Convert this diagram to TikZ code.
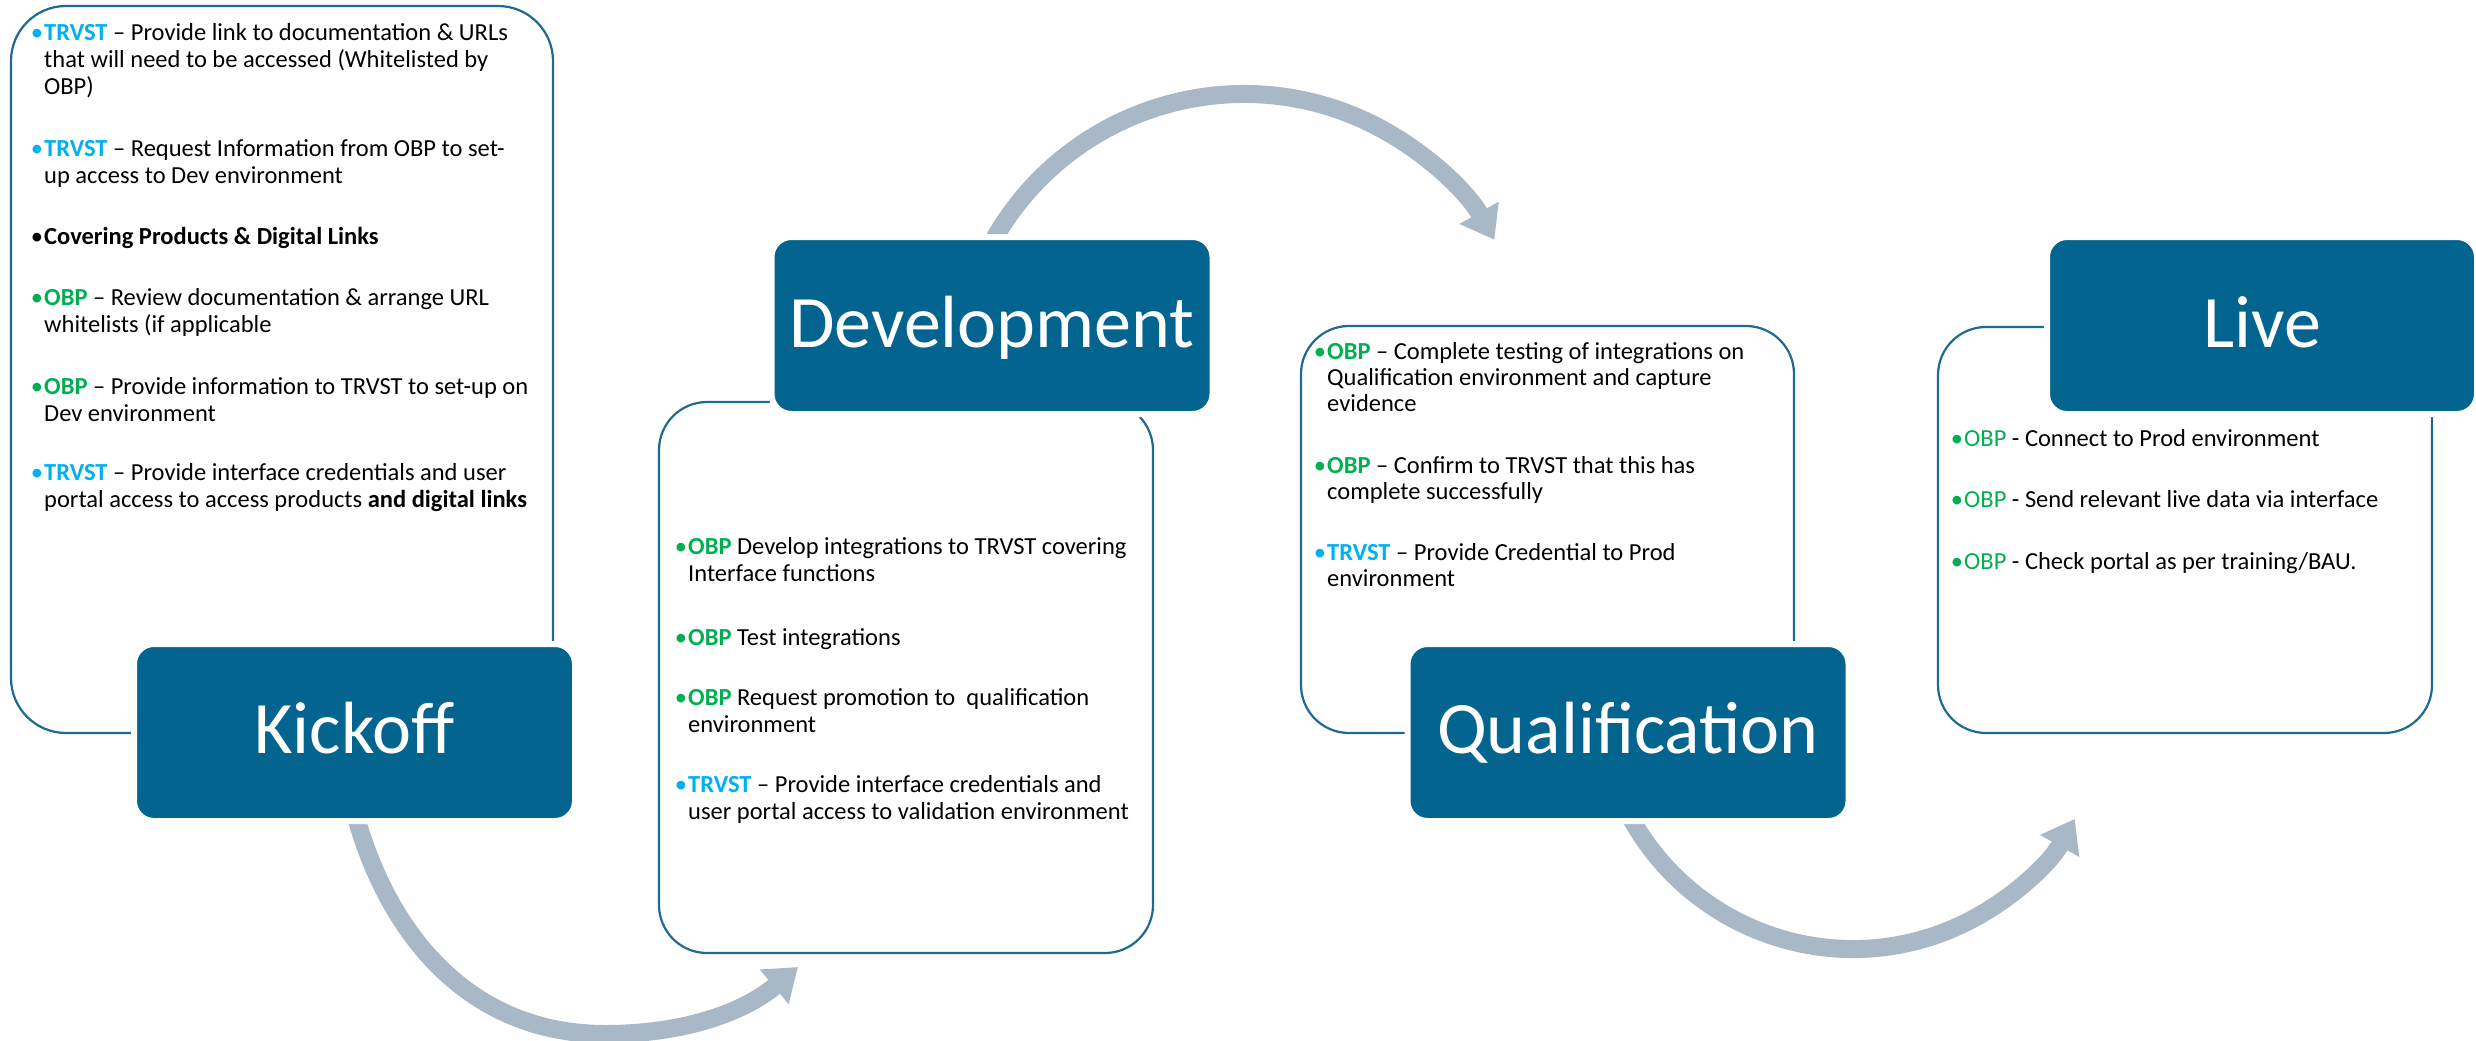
\documentclass[tikz,border=0pt]{standalone}
\usepackage{fontspec}
\setmainfont{Carlito}
\usetikzlibrary{arrows.meta}
\definecolor{darkb}{HTML}{03658F}
\definecolor{lineb}{HTML}{1F6A93}
\definecolor{arrowg}{HTML}{A9B8C6}
\definecolor{trv}{HTML}{00B0F0}
\definecolor{obp}{HTML}{00B050}
\newcommand{\TRV}{\textcolor{trv}{\textbf{TRVST}}}
\newcommand{\OBPb}{\textcolor{obp}{\textbf{OBP}}}
\newcommand{\OBPr}{\textcolor{obp}{OBP}}
\newcommand{\bitem}[6]{%
  \node[bulletmark, #5, text=#4] (#1b) at ({#2-7},#3) {\textbullet};
  \node[bodytext, #5] (#1) at (#2,#3) {\begin{tabular}[t]{@{}l@{}}#6\end{tabular}};}
\tikzset{
  textbox/.style={draw=lineb, line width=2.2pt, fill=white, rounded corners=48pt, inner sep=0pt},
  darkbox/.style={fill=darkb, draw=white, line width=6pt, rounded corners=20pt, inner sep=0pt,
                  minimum width=441pt, minimum height=177pt},
  titletext/.style={anchor=base, inner sep=0pt, text=white, font=\fontsize{74}{80}\selectfont},
  bodytext/.style={anchor=base west, inner sep=0pt, text=black},
  bulletmark/.style={anchor=base, inner sep=0pt},
  kfont/.style={font=\fontsize{24.5}{27}\selectfont},
  dfont/.style={font=\fontsize{24.5}{27}\selectfont},
  qfont/.style={font=\fontsize{24.5}{26}\selectfont},
  flow/.style={draw=arrowg, line width=18pt, -{Triangle[width=43pt,length=31pt]}}
}
\begin{document}
\begin{tikzpicture}[x=1pt,y=-1pt]
\useasboundingbox (0,0) rectangle (2476,1041);
\fill[white] (0,0) rectangle (2476,1041);

% curved arrows (behind the boxes)
\coordinate (a1s) at (353,806);
\coordinate (a1m) at (605,1034);
\coordinate (a1e) at (798,967);
\draw[flow] (a1s) .. controls (386,935) and (470,1034) .. (a1m)
            .. controls (685,1034) and (744,1012) .. (a1e);

\coordinate (a2s) at ({1244+288*cos(152.5)},{382-288*sin(152.5)});
\draw[flow] (a2s) arc[start angle=152.5, end angle=29.6, radius=288pt];

\coordinate (a3s) at ({1853+254*cos(207)},{695-254*sin(207)});
\draw[flow] (a3s) arc[start angle=207, end angle=330.8, radius=254pt];

% text boxes
\node[textbox, rounded corners=55pt, minimum width=542pt, minimum height=727pt] (ktb) at (282,369.5) {};
\node[textbox, minimum width=494pt, minimum height=551pt] (dtb) at (906,677.5) {};
\node[textbox, minimum width=493pt, minimum height=407pt] (qtb) at (1547.5,529.5) {};
\node[textbox, minimum width=494pt, minimum height=406pt] (ltb) at (2185,530) {};

% dark title boxes
\node[darkbox] (kbox) at (354.5,732.5) {};
\node[darkbox] (dbox) at (992,325.5) {};
\node[darkbox] (qbox) at (1628,732.5) {};
\node[darkbox, minimum width=430pt] (lbox) at (2262,325.5) {};

\node[titletext] (ktitle) at (354.5,753) {Kickoff};
\node[titletext] (dtitle) at (992,347) {Development};
\node[titletext] (qtitle) at (1628,753) {Qualification};
\node[titletext] (ltitle) at (2262,347) {Live};

% Kickoff bullets
\bitem{k1}{44}{41}{trv}{kfont}{\TRV{} – Provide link to documentation \& URLs\\ that will need to be accessed (Whitelisted by\\ OBP)}
\bitem{k2}{44}{156}{trv}{kfont}{\TRV{} – Request Information from OBP to set-\\ up access to Dev environment}
\bitem{k3}{44}{244}{black}{kfont}{\textbf{Covering Products \& Digital Links}}
\bitem{k4}{44}{305}{obp}{kfont}{\OBPb{} – Review documentation \& arrange URL\\ whitelists (if applicable}
\bitem{k5}{44}{394}{obp}{kfont}{\OBPb{} – Provide information to TRVST to set-up on\\ Dev environment}
\bitem{k6}{44}{480}{trv}{kfont}{\TRV{} – Provide interface credentials and user\\ portal access to access products \textbf{and digital links}}

% Development bullets
\bitem{d1}{688}{554}{obp}{dfont}{\OBPb{} Develop integrations to TRVST covering\\ Interface functions}
\bitem{d2}{688}{645}{obp}{dfont}{\OBPb{} Test integrations}
\bitem{d3}{688}{705}{obp}{dfont}{\OBPb{} Request promotion to\ \ qualification\\ environment}
\bitem{d4}{688}{792}{trv}{dfont}{\TRV{} – Provide interface credentials and\\ user portal access to validation environment}

% Qualification bullets
\bitem{q1}{1327}{359}{obp}{qfont}{\OBPb{} – Complete testing of integrations on\\ Qualification environment and capture\\ evidence}
\bitem{q2}{1327}{473}{obp}{qfont}{\OBPb{} – Confirm to TRVST that this has\\ complete successfully}
\bitem{q3}{1327}{560}{trv}{qfont}{\TRV{} – Provide Credential to Prod\\ environment}

% Live bullets
\bitem{l1}{1964}{446}{obp}{qfont}{\OBPr{} - Connect to Prod environment}
\bitem{l2}{1964}{507}{obp}{qfont}{\OBPr{} - Send relevant live data via interface}
\bitem{l3}{1964}{569}{obp}{qfont}{\OBPr{} - Check portal as per training/BAU.}
\end{tikzpicture}
\end{document}
